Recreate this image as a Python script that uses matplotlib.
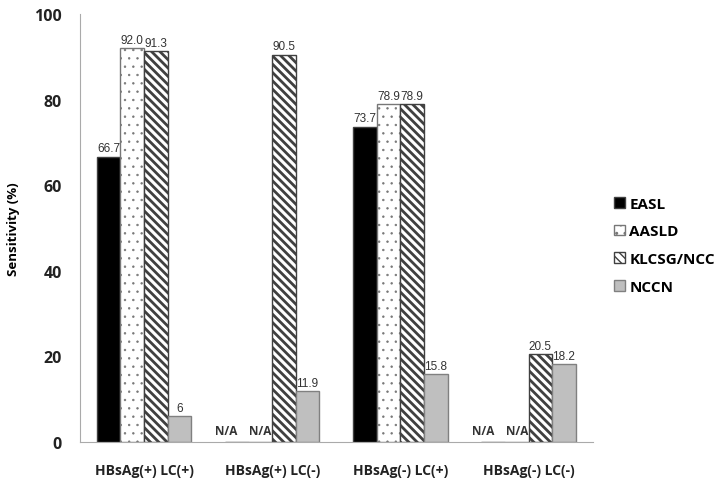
import matplotlib
matplotlib.use("Agg")
from matplotlib import pyplot as plt
import numpy as np

groups = ['HBsAg(+) LC(+)', 'HBsAg(+) LC(-)', 'HBsAg(-) LC(+)', 'HBsAg(-) LC(-)']
guidelines = ['EASL', 'AASLD', 'KLCSG/NCC', 'NCCN']
easl = [66.7, None, 73.7, None]
aasld = [92.0, None, 78.9, None]
klcsg = [91.3, 90.5, 78.9, 20.5]
nccn = [6, 11.9, 15.8, 18.2]
value_labels = [['66.7', None, '73.7', None],
                ['92.0', None, '78.9', None],
                ['91.3', '90.5', '78.9', '20.5'],
                ['6', '11.9', '15.8', '18.2']]

plt.rcParams['font.family'] = ['Open Sans', 'DejaVu Sans']

fig = plt.figure(figsize=(7.24, 4.89), dpi=100)
ax = fig.add_axes([0.1105, 0.094, 0.708, 0.875])

series = [easl, aasld, klcsg, nccn]
faces = ['black', 'white', 'white', '#bfbfbf']
hatches = [None, '..', '\\\\\\\\', None]
hatch_lw = [1.0, 0.5, 2.0, 1.0]
edges = ['#404040', '#777777', '#404040', '#808080']
w = 0.184
xpos = np.arange(len(groups))
na_shift = [-0.08, 0.0]

for i, vals in enumerate(series):
    plt.rcParams['hatch.linewidth'] = hatch_lw[i]
    x = xpos + (i - 1.5) * w
    h = [v if v is not None else 0 for v in vals]
    bars = ax.bar(x, h, width=w, color=faces[i], edgecolor=edges[i],
                  hatch=hatches[i], linewidth=1, label=guidelines[i])
    for b in bars:
        if hasattr(b, 'set_hatch_linewidth'):
            b.set_hatch_linewidth(hatch_lw[i])
    for j, v in enumerate(vals):
        if v is None:
            ax.text(x[j] + na_shift[i], 1.2, 'N/A', ha='center', va='bottom',
                    fontsize=8.5, fontweight='bold', color='#333333')
        else:
            ax.text(x[j], v + 0.6, value_labels[i][j], ha='center', va='bottom',
                    fontsize=8.5, color='#333333', family='Liberation Sans')

ax.set_xlim(-0.5, 3.5)
ax.set_ylim(0, 100)
ax.set_yticks([0, 20, 40, 60, 80, 100])
ax.set_xticks(xpos)
ax.set_xticklabels(groups, fontsize=10, fontweight='bold', color='#222222')
for lab in ax.get_yticklabels():
    lab.set_fontsize(11.5)
    lab.set_fontweight('bold')
    lab.set_color('#222222')
ax.tick_params(axis='both', length=0)
ax.tick_params(axis='x', pad=15)
ax.tick_params(axis='y', pad=13)
ax.set_ylabel('Sensitivity (%)', fontsize=9.5, fontweight='bold', labelpad=10)
for s in ['top', 'right']:
    ax.spines[s].set_visible(False)
for s in ['left', 'bottom']:
    ax.spines[s].set_color('#aaaaaa')

leg = ax.legend(loc='center left', bbox_to_anchor=(1.015, 0.46), frameon=False,
                handlelength=0.7, handleheight=0.7, handletextpad=0.3,
                labelspacing=0.9, prop={'weight': 'bold', 'size': 11})

plt.savefig('out.png', dpi=100)
